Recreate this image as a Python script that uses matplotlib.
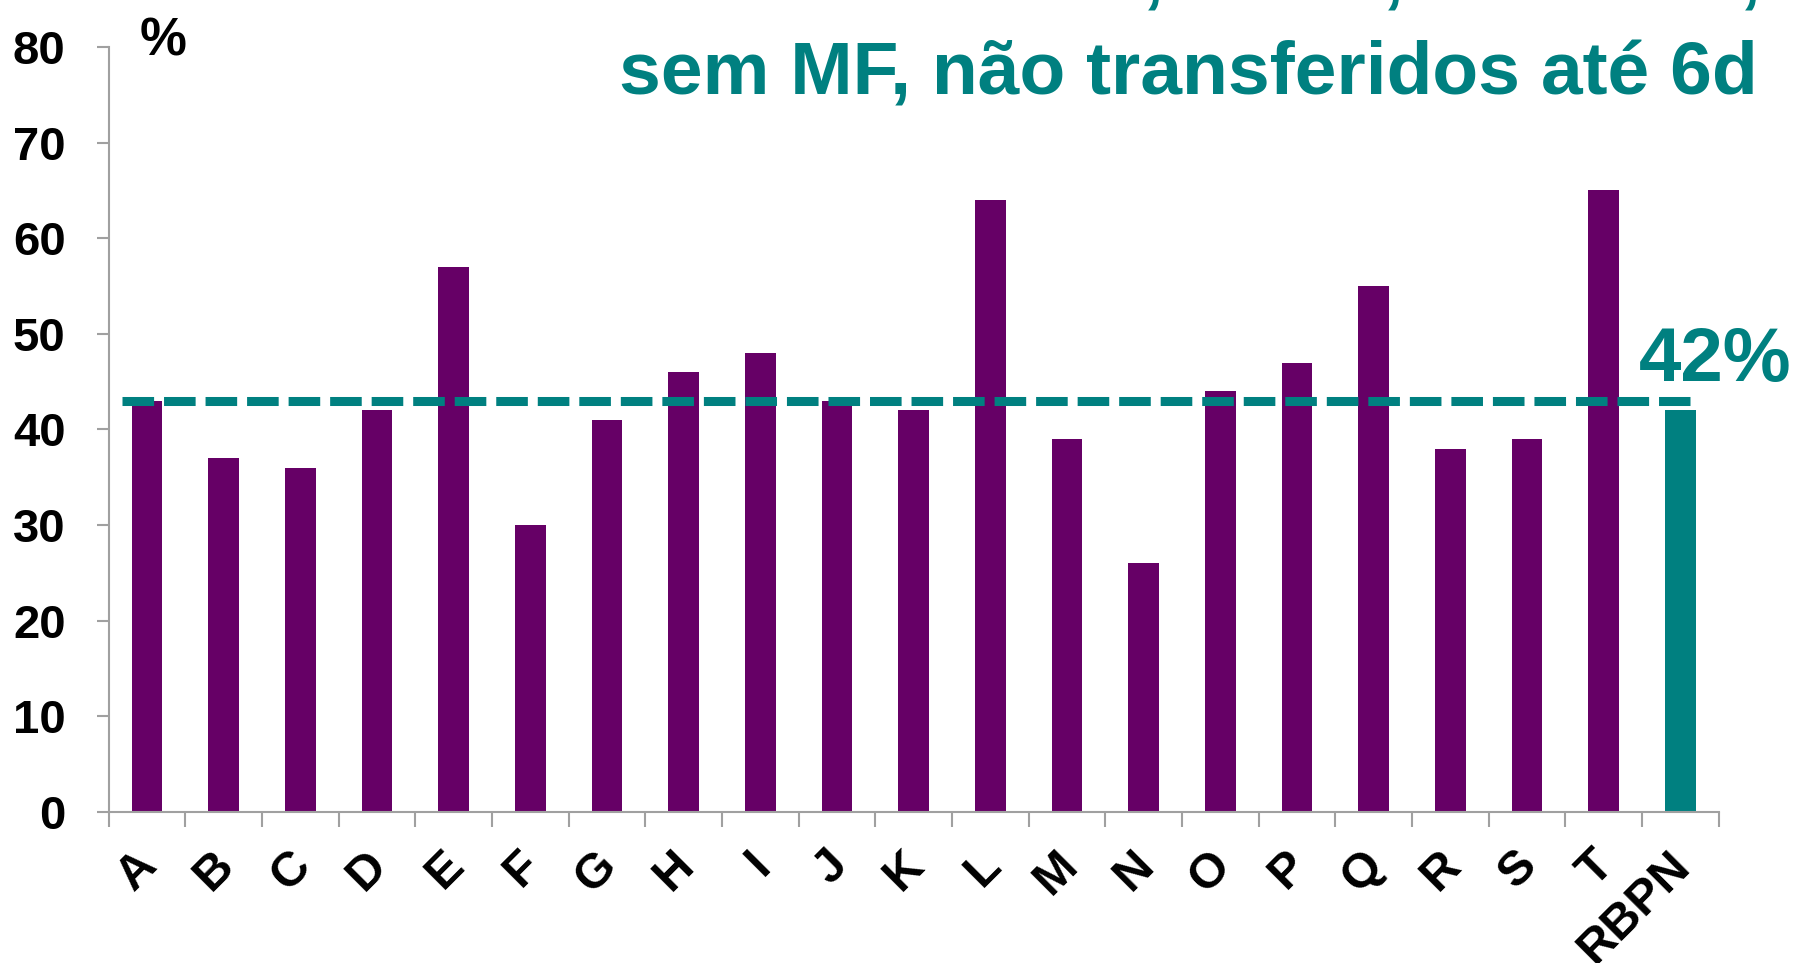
import numpy as np
import matplotlib
matplotlib.use("Agg")
from matplotlib import pyplot as plt
from matplotlib import transforms

categories = ["A", "B", "C", "D", "E", "F", "G", "H", "I", "J", "K",
              "L", "M", "N", "O", "P", "Q", "R", "S", "T", "RBPN"]
values = [43, 37, 36, 42, 57, 30, 41, 46, 48, 43, 42,
          64, 39, 26, 44, 47, 55, 38, 39, 65, 42]
ref_line = 43
ref_label = "42%"
title = "sem MF, não transferidos até 6d"

purple = "#660066"
teal = "#008080"
grey = "#a0a0a0"

plt.rcParams['font.family'] = ['Liberation Sans', 'DejaVu Sans']

fig = plt.figure(figsize=(17.93, 9.63), dpi=100)
ax = fig.add_axes([0.0606, 0.1568, 0.898, 0.7944])

x = np.arange(len(categories))
colors = [purple] * (len(categories) - 1) + [teal]
ax.bar(x, values, width=0.4, color=colors, zorder=2)

# dashed reference line
ax.plot([-0.32, 20.13], [ref_line, ref_line], color=teal, lw=6.5,
        dashes=(3.5, 1.1), dash_capstyle="butt", zorder=3)
ax.text(20.45, 45.1, ref_label, color=teal, fontsize=55,
        fontweight="bold", ha="center", va="baseline", clip_on=False)

ax.set_xlim(-0.5, len(categories) - 0.5)
ax.set_ylim(0, 80)
ax.set_yticks(np.arange(0, 81, 10))

# category labels drawn as text so they can be nudged like the original
ax.set_xticks(x)
ax.set_xticklabels([])
offset = transforms.ScaledTranslation(0.19, -0.305, fig.dpi_scale_trans)
lab_tr = ax.get_xaxis_transform() + offset
for i, cat in enumerate(categories):
    ax.text(i, 0, cat, transform=lab_tr, rotation=45, ha="right", va="top",
            fontsize=35, fontweight="bold", clip_on=False)
ax.set_xticks(np.arange(-0.5, len(categories)), minor=True)
ax.tick_params(axis="x", which="major", length=0)
ax.tick_params(axis="x", which="minor", length=11, width=1.5, color=grey)
ax.tick_params(axis="y", length=9, width=1.5, color=grey, pad=22,
               labelsize=34)
for lab in ax.get_yticklabels():
    lab.set_fontweight("bold")

for s in ["top", "right"]:
    ax.spines[s].set_visible(False)
for s in ["left", "bottom"]:
    ax.spines[s].set_color(grey)
    ax.spines[s].set_linewidth(1.5)

fig.text(163 / 1793, 1 - 55 / 963, "%", fontsize=38, fontweight="bold",
         ha="center", va="baseline")
fig.text(1758 / 1793, 1 - 94 / 963, title, fontsize=54, fontweight="bold",
         color=teal, ha="right", va="baseline")
# tails of the cut-off first title line
for cx in [1153, 1393, 1750]:
    fig.text(cx / 1793, 1 + 2 / 963, ",", fontsize=54, fontweight="bold",
             color=teal, ha="center", va="baseline")

fig.savefig("out.png", dpi=100)
